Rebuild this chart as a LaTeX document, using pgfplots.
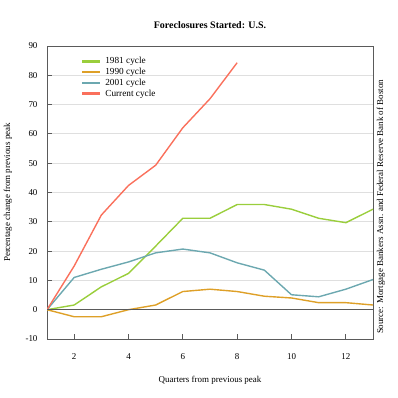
\documentclass[border=0pt]{standalone}
\usepackage{pgfplots}
\pgfplotsset{compat=1.18}
\usetikzlibrary{calc}
\usepackage{fontspec}
\setmainfont{Liberation Serif}
\definecolor{colA}{RGB}{154,206,60}
\definecolor{colB}{RGB}{222,160,40}
\definecolor{colC}{RGB}{108,168,176}
\definecolor{colD}{RGB}{250,112,92}
\definecolor{axc}{RGB}{90,90,90}
\begin{document}
\begin{tikzpicture}
\path (0,0) rectangle (398bp,398bp);
\begin{axis}[
  name=ax,
  at={(47bp,59bp)}, anchor=south west,
  scale only axis, width=326bp, height=293bp,
  xmin=1, xmax=13, ymin=-10, ymax=90,
  xtick={2,4,...,12}, ytick={-10,0,...,90},
  xtick pos=bottom, ytick pos=left,
  tick align=inside, major tick length=5bp,
  axis line style={axc, line width=0.9pt},
  tick style={axc, line width=0.8pt},
  ymajorgrids, grid style={gray!25, line width=0.8pt},
  font=\fontsize{9}{10}\selectfont,
  ticklabel style={font=\fontsize{9}{10}\selectfont},
  xticklabel style={yshift=-11bp},
  yticklabel style={xshift=-6bp},
  /pgf/number format/assume math mode=true,
  xlabel={Quarters from previous peak},
  xlabel style={at={(axis description cs:0.5,-0.142)}, anchor=center},
  ylabel={Percentage change from previous peak},
  ylabel style={at={(axis description cs:-0.12,0.5)}, anchor=center},
  legend style={draw=none, fill=none, at={(rel axis cs:0.095,0.975)}, anchor=north west,
    font=\fontsize{9.3}{10}\selectfont, row sep=-1.2bp,
    legend cell align=left, nodes={inner xsep=4bp}},
  legend image code/.code={\draw[#1, line width=2.2pt] (0bp,0bp) -- (18bp,0bp);},
]
\addplot[color=colA, line width=1.4pt] coordinates {(1,0)(2,1.6)(3,7.8)(4,12.4)(5,21.7)(6,31.2)(7,31.2)(8,35.9)(9,35.9)(10,34.3)(11,31.2)(12,29.7)(13,34.3)};
\addlegendentry{1981 cycle}
\addplot[color=colB, line width=1.4pt] coordinates {(1,0)(2,-2.4)(3,-2.4)(4,0)(5,1.6)(6,6.2)(7,7.0)(8,6.2)(9,4.6)(10,4.0)(11,2.4)(12,2.4)(13,1.6)};
\addlegendentry{1990 cycle}
\addplot[color=colC, line width=1.4pt] coordinates {(1,0)(2,11.0)(3,13.8)(4,16.3)(5,19.4)(6,20.7)(7,19.4)(8,16.0)(9,13.5)(10,5.1)(11,4.4)(12,7.0)(13,10.3)};
\addlegendentry{2001 cycle}
\addplot[color=colD, line width=1.4pt] coordinates {(1,0)(2,14.9)(3,32.3)(4,42.4)(5,49.3)(6,62.1)(7,72)(8,84.3)};
\addlegendentry{Current cycle}
\draw[axc, line width=0.9pt] (axis cs:1,0) -- (axis cs:13,0);
\end{axis}
\node[font=\fontsize{10}{12}\selectfont\bfseries, anchor=center] at ($(ax.north)+(0,21bp)$) {Foreclosures Started: U.S.};
\node[rotate=90, anchor=center, font=\fontsize{9}{10}\selectfont, inner sep=0pt] at ($(ax.south east)+(8bp,132bp)$) {Source: Mortgage Bankers Assn. and Federal Reserve Bank of Boston};
\end{tikzpicture}
\end{document}
